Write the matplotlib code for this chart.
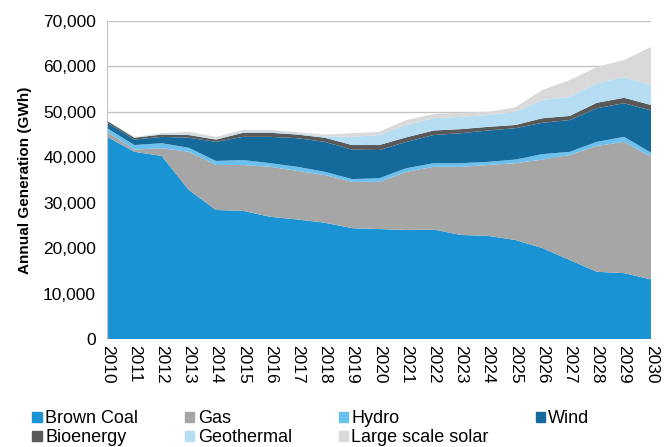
import matplotlib.pyplot as plt
from matplotlib.patches import Patch
from matplotlib.ticker import FuncFormatter

plt.rcParams['font.family'] = ['Liberation Sans', 'DejaVu Sans']

years = list(range(2010, 2031))

# annual generation by source (GWh)
brown_coal = [44500, 41200, 40300, 32800, 28400, 28200, 26900, 26300, 25600, 24400, 24200,
              24000, 24100, 22900, 22700, 21800, 20000, 17400, 14800, 14500, 13100]
gas = [1100, 500, 1700, 8400, 9900, 10100, 11000, 10700, 10500, 10200, 10400,
       12800, 13800, 15000, 15600, 16900, 19500, 23100, 27700, 28900, 27000]
hydro = [800, 1000, 1100, 900, 900, 1100, 800, 900, 700, 600, 800,
         800, 800, 800, 700, 800, 1200, 700, 900, 1100, 900]
wind = [1200, 1200, 1400, 2200, 4200, 5100, 5800, 6300, 6600, 6500, 6200,
        5800, 6200, 6600, 6900, 6900, 6900, 7000, 7400, 7400, 9300]
bioenergy = [400, 400, 500, 600, 500, 900, 900, 800, 900, 1000, 1100,
             1000, 1000, 900, 800, 700, 1000, 900, 1200, 1200, 1200]
geothermal = [0, 100, 100, 200, 100, 200, 200, 200, 300, 1800, 2200,
              2700, 2700, 2700, 2600, 2900, 4000, 4200, 4300, 4500, 4400]
solar = [0, 100, 200, 500, 500, 400, 400, 300, 400, 800, 700,
         1100, 900, 900, 700, 1000, 2200, 3700, 3600, 3800, 8400]

labels = ['Brown Coal', 'Gas', 'Hydro', 'Wind', 'Bioenergy', 'Geothermal', 'Large scale solar']
colors = ['#1a93d4', '#a6a6a6', '#6cc0ee', '#156a9c', '#595959', '#b5ddf3', '#d9d9d9']

fig = plt.figure(figsize=(6.7, 4.47), dpi=100)
ax = fig.add_axes([0.16, 0.2416, 0.812, 0.7114])

ax.stackplot(years, brown_coal, gas, hydro, wind, bioenergy, geothermal, solar,
             colors=colors, linewidth=0, zorder=2)

ax.set_xlim(2010, 2030)
ax.set_ylim(0, 70000)
ax.set_yticks(range(0, 70001, 10000))
ax.yaxis.set_major_formatter(FuncFormatter(lambda v, p: f'{int(v):,}'))
ax.set_xticks(years)
ax.set_xticklabels([str(y) for y in years], rotation=270, fontsize=12.5)
ax.tick_params(axis='y', labelsize=12.5, length=0, pad=8)
ax.tick_params(axis='x', length=0, pad=4)
ax.grid(axis='y', color='#c4c4c4', linewidth=1, zorder=0)
for s in ['top', 'right', 'bottom']:
    ax.spines[s].set_visible(False)
ax.spines['left'].set_color('#c4c4c4')
ax.set_ylabel('Annual Generation (GWh)', fontsize=11, fontweight='bold', labelpad=8)

handles = [Patch(color=c, label=l) for c, l in zip(colors, labels)]
# reorder so the legend reads row by row
order = [0, 4, 1, 5, 2, 6, 3]
fig.legend([handles[i] for i in order], [labels[i] for i in order],
           ncol=4, loc='upper left', bbox_to_anchor=(0.035, 0.102), frameon=False,
           fontsize=13, handlelength=0.5, handleheight=0.5, handletextpad=0.2,
           columnspacing=2.6, labelspacing=0.1, borderpad=0)

fig.savefig('out.png', dpi=100)
